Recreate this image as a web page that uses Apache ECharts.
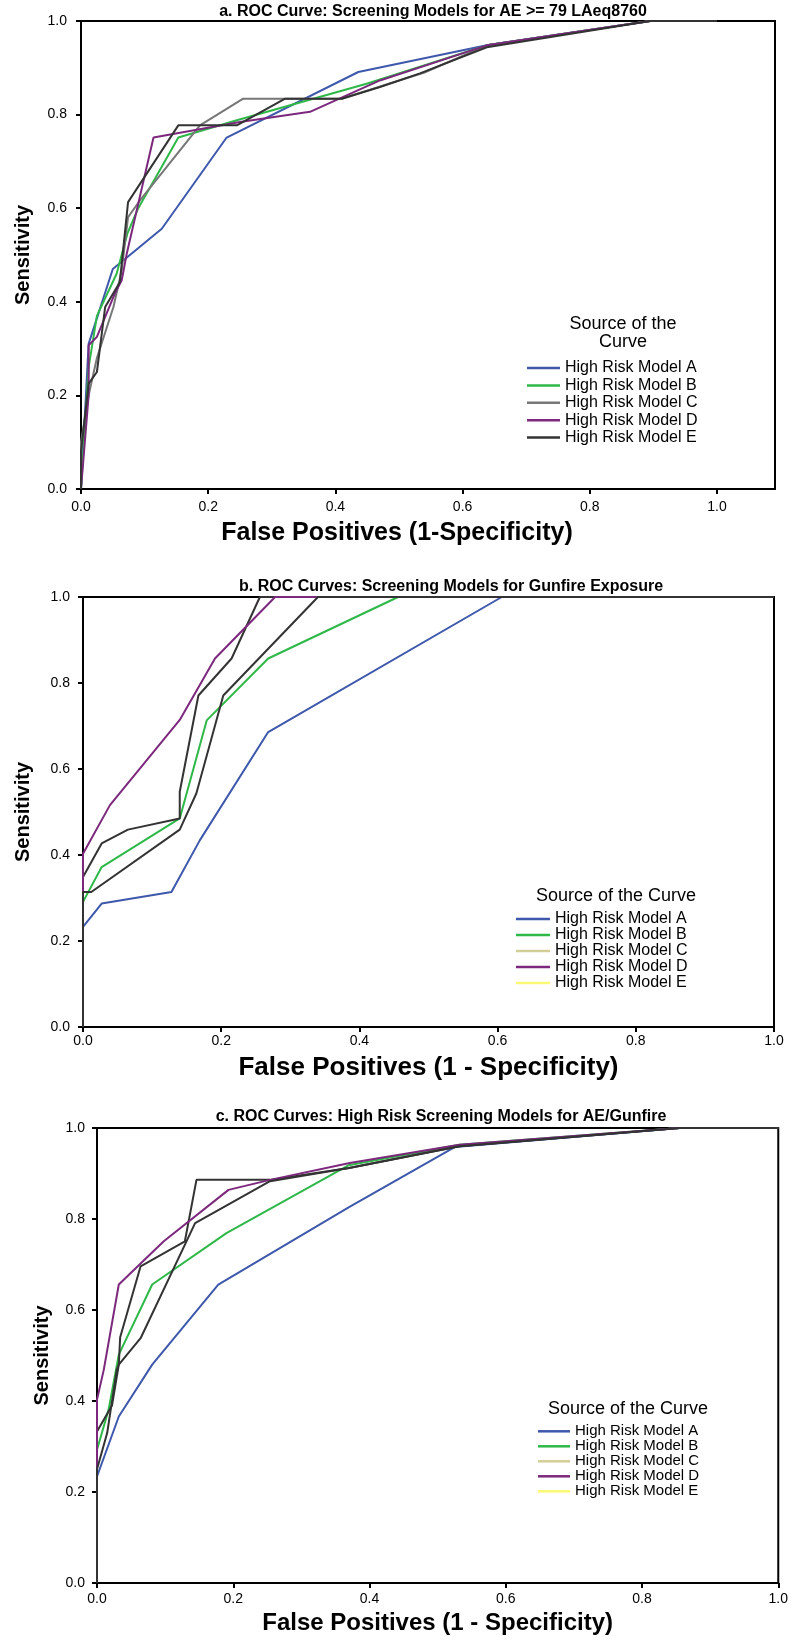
<!DOCTYPE html>
<html>
<head>
<meta charset="utf-8">
<title>ROC Curves: High Risk Screening Models</title>
<script src="https://cdn.jsdelivr.net/npm/echarts@6/dist/echarts.min.js"></script>
<style>
  html, body { margin: 0; padding: 0; background: #fff; }
  #chart { width: 791px; height: 1639px; }
</style>
</head>
<body>
<div id="chart"></div>
<script>
/* three stacked ROC panels, points are [1 - specificity, sensitivity] */

const tickValues = [0, 0.2, 0.4, 0.6, 0.8, 1.0];
const modelNames = ['High Risk Model A', 'High Risk Model B', 'High Risk Model C', 'High Risk Model D', 'High Risk Model E'];

// a. AE >= 79 LAeq8760
const aeModelA = [[0, 0], [0.012, 0.31], [0.05, 0.47], [0.074, 0.497], [0.127, 0.556], [0.229, 0.751], [0.436, 0.891], [0.638, 0.948], [0.895, 1], [1, 1]];
const aeModelB = [[0, 0], [0.012, 0.26], [0.025, 0.37], [0.056, 0.46], [0.073, 0.546], [0.09, 0.6], [0.153, 0.751], [0.245, 0.788], [0.449, 0.866], [0.638, 0.948], [0.895, 1], [1, 1]];
const aeModelC = [[0, 0], [0, 0.1], [0.012, 0.2], [0.025, 0.28], [0.051, 0.389], [0.064, 0.467], [0.074, 0.581], [0.093, 0.617], [0.187, 0.777], [0.255, 0.834], [0.41, 0.834], [0.54, 0.89], [0.638, 0.948], [0.895, 1], [1, 1]];
const aeModelD = [[0, 0], [0.012, 0.2], [0.012, 0.307], [0.025, 0.325], [0.053, 0.417], [0.064, 0.446], [0.072, 0.503], [0.114, 0.751], [0.25, 0.784], [0.36, 0.806], [0.47, 0.873], [0.638, 0.948], [0.895, 1], [1, 1]];
const aeModelE = [[0, 0], [0, 0.08], [0.012, 0.225], [0.025, 0.25], [0.038, 0.389], [0.061, 0.442], [0.074, 0.613], [0.153, 0.777], [0.245, 0.777], [0.321, 0.834], [0.41, 0.834], [0.47, 0.859], [0.533, 0.888], [0.638, 0.944], [0.895, 1], [1, 1]];

// b. Gunfire exposure
const gunModelA = [[0, 0], [0, 0.233], [0.027, 0.287], [0.128, 0.314], [0.169, 0.434], [0.268, 0.686], [0.606, 1], [1, 1]];
const gunModelB = [[0, 0], [0, 0.291], [0.027, 0.372], [0.14, 0.485], [0.179, 0.713], [0.268, 0.857], [0.456, 1], [1, 1]];
const gunModelC = [[0, 0], [0, 0.349], [0.027, 0.427], [0.065, 0.459], [0.14, 0.485], [0.14, 0.547], [0.167, 0.771], [0.215, 0.857], [0.256, 1], [1, 1]];
const gunModelD = [[0, 0], [0, 0.403], [0.039, 0.516], [0.14, 0.714], [0.191, 0.857], [0.278, 1], [1, 1]];
const gunModelE = [[0, 0], [0, 0.314], [0.012, 0.314], [0.14, 0.459], [0.164, 0.543], [0.203, 0.771], [0.34, 1], [1, 1]];

// c. AE / Gunfire
const bothModelA = [[0, 0], [0, 0.234], [0.032, 0.366], [0.081, 0.48], [0.178, 0.656], [0.37, 0.826], [0.525, 0.958], [0.855, 1], [1, 1]];
const bothModelB = [[0, 0], [0, 0.293], [0.017, 0.381], [0.032, 0.502], [0.081, 0.656], [0.19, 0.769], [0.369, 0.918], [0.532, 0.963], [0.855, 1], [1, 1]];
const bothModelC = [[0, 0], [0, 0.333], [0.022, 0.39], [0.032, 0.48], [0.034, 0.54], [0.064, 0.696], [0.129, 0.751], [0.146, 0.886], [0.254, 0.886], [0.37, 0.912], [0.532, 0.96], [0.855, 1], [1, 1]];
const bothModelD = [[0, 0], [0, 0.403], [0.01, 0.469], [0.032, 0.656], [0.098, 0.751], [0.193, 0.864], [0.254, 0.886], [0.371, 0.923], [0.532, 0.963], [0.855, 1], [1, 1]];
const bothModelE = [[0, 0], [0, 0.25], [0.015, 0.33], [0.029, 0.469], [0.032, 0.48], [0.064, 0.538], [0.144, 0.791], [0.254, 0.883], [0.37, 0.912], [0.532, 0.96], [0.855, 1], [1, 1]];

const FONT = "'Liberation Sans', Arial, sans-serif";
const lineColors = ['#3e58ac', '#2eb848', '#777777', '#7c287d', '#333333'];
// panels b and c: C and E curves are drawn dark, legend keys are khaki / yellow
const lineColorsBC = ['#3e58ac', '#2eb848', '#333333', '#7c287d', '#333333'];
const legendColorsBC = ['#3e58ac', '#2eb848', '#d3ce97', '#7c287d', '#fbf873'];

const panels = [
  {
    title: 'a. ROC Curve: Screening Models for AE >= 79 LAeq8760', titleX: 433, titleY: 11.5,
    grid: { left: 81, top: 21, width: 694, height: 468 }, xMax: 1.0912,
    // name sits over 0..1, not over the whole (wider) axis
    xName: 'False Positives (1-Specificity)', xNameSize: 25, xNameGap: 32, xNameShift: 62, xLabelMargin: 11,
    yNameGap: 48, yLabelMargin: 14,
    curves: [aeModelA, aeModelB, aeModelC, aeModelD, aeModelE], colors: lineColors,
    legendHead: 'Source of the\nCurve', headX: 623, headTop: 315, headLine: 18,
    legend: { left: 527, top: 359.3, itemWidth: 33, lineHeight: 17.4, fontSize: 16 },
  },
  {
    title: 'b. ROC Curves: Screening Models for Gunfire Exposure', titleX: 451, titleY: 587,
    grid: { left: 83, top: 597, width: 691, height: 430 }, xMax: 1,
    xName: 'False Positives (1 - Specificity)', xNameSize: 26, xNameGap: 28, xNameShift: 0, xLabelMargin: 7,
    yNameGap: 50, yLabelMargin: 13,
    curves: [gunModelA, gunModelB, gunModelC, gunModelD, gunModelE], colors: lineColorsBC, legendColors: legendColorsBC,
    legendHead: 'Source of the Curve', headX: 616, headTop: 886, headLine: 20,
    legend: { left: 516, top: 910.9, itemWidth: 34, lineHeight: 14.8, fontSize: 16 },
  },
  {
    title: 'c. ROC Curves: High Risk Screening Models for AE/Gunfire', titleX: 441, titleY: 1117,
    grid: { left: 97, top: 1128, width: 682, height: 455 }, xMax: 1,
    xName: 'False Positives (1 - Specificity)', xNameSize: 24, xNameGap: 28, xNameShift: 0, xLabelMargin: 9,
    yNameGap: 45, yLabelMargin: 12,
    curves: [bothModelA, bothModelB, bothModelC, bothModelD, bothModelE], colors: lineColorsBC, legendColors: legendColorsBC,
    legendHead: 'Source of the Curve', headX: 628, headTop: 1399, headLine: 20,
    legend: { left: 538, top: 1423.8, itemWidth: 32, lineHeight: 14.3, fontSize: 15 },
  },
];

const fmt = (v) => v.toFixed(1);

const axisCommon = (i, max, labelMargin) => ({
  type: 'value',
  gridIndex: i,
  min: 0,
  max,
  interval: 0.2,
  axisLine: { show: true, onZero: false, lineStyle: { color: '#000', width: 2 } },
  axisTick: { show: true, length: 5, customValues: tickValues, lineStyle: { color: '#000', width: 2 } },
  axisLabel: { customValues: tickValues, formatter: fmt, color: '#000', fontSize: 14, fontFamily: FONT, margin: labelMargin },
  splitLine: { show: false },
});

const option = {
  animation: false,
  backgroundColor: '#fff',
  grid: panels.map((p) => ({ ...p.grid, show: true, borderColor: '#000', borderWidth: 2, containLabel: false })),
  xAxis: panels.map((p, i) => ({
    ...axisCommon(i, p.xMax, p.xLabelMargin),
    name: p.xName,
    nameLocation: 'middle',
    nameGap: p.xNameGap,
    nameTextStyle: {
      color: '#000', fontWeight: 'bold', fontSize: p.xNameSize, fontFamily: FONT,
      padding: [0, p.xNameShift, 0, 0],
    },
  })),
  yAxis: panels.map((p, i) => ({
    ...axisCommon(i, 1, p.yLabelMargin),
    name: 'Sensitivity',
    nameLocation: 'middle',
    nameGap: p.yNameGap,
    nameTextStyle: { color: '#000', fontWeight: 'bold', fontSize: 20, fontFamily: FONT },
  })),
  title: [
    ...panels.map((p) => ({
      text: p.title, left: p.titleX, top: p.titleY - 8, textAlign: 'center', padding: 0,
      textStyle: { color: '#000', fontWeight: 'bold', fontSize: 16, fontFamily: FONT },
    })),
    ...panels.map((p) => ({
      text: p.legendHead, left: p.headX, top: p.headTop, textAlign: 'center', padding: 0,
      textStyle: { color: '#000', fontWeight: 'normal', fontSize: 18, lineHeight: p.headLine, fontFamily: FONT },
    })),
  ],
  legend: panels.map((p) => ({
    orient: 'vertical',
    left: p.legend.left,
    top: p.legend.top,
    padding: 0,
    icon: 'rect',
    itemWidth: p.legend.itemWidth,
    itemHeight: 2.5,
    itemGap: 0,
    selectedMode: false,
    textStyle: { color: '#000', fontSize: p.legend.fontSize, lineHeight: p.legend.lineHeight, fontFamily: FONT },
    data: modelNames.map((name, k) => {
      const c = (p.legendColors || p.colors)[k];
      return { name, itemStyle: { color: c, borderWidth: 0 } };
    }),
  })),
  series: panels.flatMap((p, i) => p.curves.map((data, k) => ({
    type: 'line',
    name: modelNames[k],
    xAxisIndex: i,
    yAxisIndex: i,
    data,
    symbol: 'none',
    color: p.colors[k],
    lineStyle: { color: p.colors[k], width: 2 },
  }))),
};

const chart = echarts.init(document.getElementById('chart'), null, { renderer: 'canvas' });
chart.setOption(option);
window.addEventListener('resize', () => chart.resize());
</script>
</body>
</html>
